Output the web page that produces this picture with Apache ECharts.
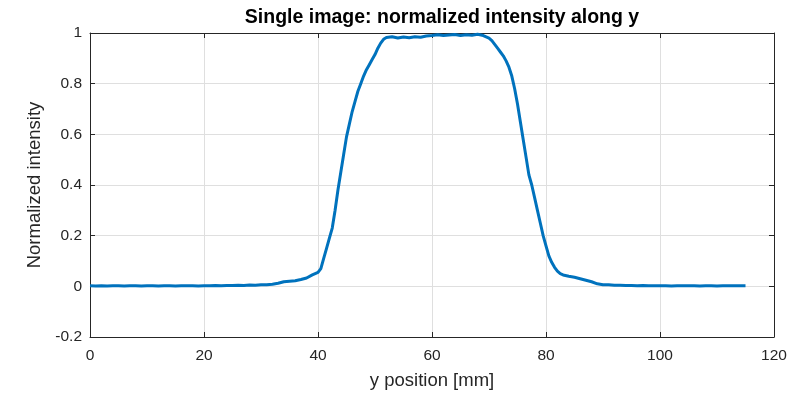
<!DOCTYPE html>
<html>
<head>
<meta charset="utf-8">
<script src="https://cdn.jsdelivr.net/npm/echarts@6/dist/echarts.min.js"></script>
<style>
  html, body { margin: 0; padding: 0; background: #fff; }
  #chart { width: 805px; height: 395px; }
</style>
</head>
<body>
<div id="chart"></div>
<script>
// y position [mm]
const yPosition = [
  0, 1, 2, 3, 4, 5, 6, 7, 8, 9, 10, 11, 12, 13, 14, 15, 16, 17, 18, 19,
  20, 21, 22, 23, 24, 25, 26, 27, 28, 29, 30, 31, 32, 33, 34, 35, 36, 37, 38, 39,
  40, 40.5, 41, 41.5, 42, 42.5, 43, 43.5, 44, 44.5, 45, 45.5, 46, 46.5, 47, 47.5,
  48, 48.5, 49, 49.5, 50, 50.5, 51, 51.5, 52, 53, 54, 55, 56, 57, 58, 59,
  60, 61, 62, 63, 64, 65, 66, 67, 68, 69, 69.5, 70, 70.5, 71, 71.5, 72, 72.5,
  73, 73.5, 74, 74.5, 75, 75.5, 76, 76.5, 77, 77.5, 78, 78.5, 79, 79.5,
  80, 80.5, 81, 81.5, 82, 82.5, 83, 84, 85, 86, 87, 88, 89,
  90, 91, 92, 93, 94, 95, 96, 97, 98, 99, 100, 101, 102, 103, 104, 105,
  106, 107, 108, 109, 110, 111, 112, 113, 114, 115
];
// normalized intensity
const intensity = [
  0.002, 0.001, 0.002, 0.001, 0.002, 0.002, 0.001, 0.002, 0.002, 0.001,
  0.002, 0.002, 0.001, 0.002, 0.002, 0.001, 0.002, 0.002, 0.002, 0.001,
  0.002, 0.002, 0.003, 0.002, 0.003, 0.003, 0.004, 0.003, 0.005, 0.004,
  0.006, 0.006, 0.008, 0.012, 0.018, 0.020, 0.022, 0.027, 0.033, 0.045,
  0.055, 0.070, 0.110, 0.150, 0.190, 0.230, 0.300, 0.380, 0.450, 0.520, 0.590, 0.640,
  0.690, 0.730, 0.770, 0.800, 0.830, 0.855, 0.875, 0.895, 0.915, 0.940, 0.960, 0.975,
  0.982, 0.985, 0.980, 0.984, 0.981, 0.985, 0.983, 0.988,
  0.990, 0.993, 0.990, 0.992, 0.994, 0.990, 0.993, 0.991, 0.995, 0.990, 0.985, 0.980,
  0.970, 0.955, 0.940, 0.925, 0.910, 0.890, 0.865, 0.830, 0.780, 0.720, 0.650, 0.580,
  0.510, 0.440, 0.400, 0.350, 0.300, 0.250, 0.200,
  0.160, 0.120, 0.095, 0.075, 0.060, 0.050, 0.045, 0.040, 0.036, 0.030, 0.024, 0.018, 0.010,
  0.006, 0.006, 0.004, 0.004, 0.003, 0.003, 0.002, 0.003, 0.002, 0.002, 0.002, 0.002,
  0.001, 0.002, 0.002, 0.002, 0.002, 0.001, 0.002, 0.002, 0.001, 0.002, 0.002, 0.002,
  0.002, 0.002
];

const axisColor = "#262626";
const gridColor = "#dfdfdf";
const font = "Liberation Sans, Arial, Helvetica, sans-serif";

const chart = echarts.init(document.getElementById("chart"));

function frameAxis(position, min, max, interval) {
  return {
    type: "value",
    position: position,
    min: min,
    max: max,
    interval: interval,
    axisLine: { show: true, onZero: false, lineStyle: { color: axisColor, width: 1 } },
    axisTick: { show: true, inside: true, length: 5, lineStyle: { color: axisColor } },
    axisLabel: { show: false },
    splitLine: { show: false }
  };
}

const option = {
  animation: false,
  backgroundColor: "#ffffff",
  title: {
    text: "Single image: normalized intensity along y",
    left: 437,
    top: 3,
    textAlign: "center",
    textStyle: { fontFamily: font, fontSize: 19.5, fontWeight: "bold", color: "#000" }
  },
  grid: { left: 90, right: 31, top: 33, bottom: 58, containLabel: false },
  xAxis: [
    {
      type: "value",
      position: "bottom",
      min: 0,
      max: 120,
      interval: 20,
      name: "y position [mm]",
      nameLocation: "middle",
      nameGap: 34,
      nameTextStyle: { fontFamily: font, fontSize: 18.5, color: axisColor },
      axisLine: { show: true, onZero: false, lineStyle: { color: axisColor, width: 1 } },
      axisTick: { show: true, inside: true, length: 5, lineStyle: { color: axisColor } },
      axisLabel: { fontFamily: font, fontSize: 15.5, color: axisColor, margin: 11 },
      splitLine: { show: true, lineStyle: { color: gridColor, width: 1 } }
    },
    frameAxis("top", 0, 120, 20)
  ],
  yAxis: [
    {
      type: "value",
      position: "left",
      min: -0.2,
      max: 1,
      interval: 0.2,
      name: "Normalized intensity",
      nameLocation: "middle",
      nameGap: 42,
      nameTextStyle: { fontFamily: font, fontSize: 18.5, color: axisColor },
      axisLine: { show: true, onZero: false, lineStyle: { color: axisColor, width: 1 } },
      axisTick: { show: true, inside: true, length: 5, lineStyle: { color: axisColor } },
      axisLabel: {
        fontFamily: font, fontSize: 15.5, color: axisColor, margin: 8,
        formatter: v => String(+v.toFixed(1))
      },
      splitLine: { show: true, lineStyle: { color: gridColor, width: 1 } }
    },
    frameAxis("right", -0.2, 1, 0.2)
  ],
  series: [
    {
      type: "line",
      xAxisIndex: 0,
      yAxisIndex: 0,
      data: yPosition.map((x, i) => [x, intensity[i]]),
      showSymbol: false,
      symbol: "none",
      lineStyle: { color: "#0072BD", width: 3 },
      z: 5
    }
  ]
};

chart.setOption(option);
</script>
</body>
</html>
